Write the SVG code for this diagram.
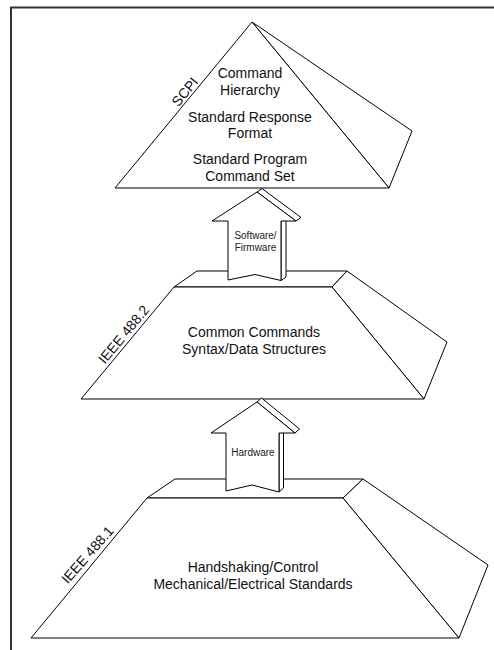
<svg xmlns="http://www.w3.org/2000/svg" width="494" height="650" viewBox="0 0 494 650">
<style>
.f{fill:#fff;stroke:#000;stroke-width:1;stroke-linejoin:miter}
.t{font-family:"Liberation Sans",Arial,sans-serif;font-size:14px;fill:#111;text-anchor:middle}
.s{font-family:"Liberation Sans",Arial,sans-serif;font-size:10px;fill:#222;text-anchor:middle}
</style>
<rect width="494" height="650" fill="#fff"/>
<path d="M11,650 V7.5 H494" fill="none" stroke="#333" stroke-width="2"/>
<g id="scpi">
<polygon class="f" points="252,22 412,131 389,188"/>
<polygon class="f" points="252,22 389,188 115,188"/>
<text class="t" x="250" y="78">Command</text>
<text class="t" x="250" y="95">Hierarchy</text>
<text class="t" x="250" y="122">Standard Response</text>
<text class="t" x="250" y="138">Format</text>
<text class="t" x="250" y="164">Standard Program</text>
<text class="t" x="250" y="181">Command Set</text>
<text class="t" transform="translate(188.7,94.8) rotate(-50.5)">SCPI</text>
</g>
<g id="ieee4882">
<polygon class="f" points="174,287 197,271 347,271 332,287"/>
<polygon class="f" points="332,287 347,271 447,342 424,399"/>
<polygon class="f" points="174,287 332,287 424,399 81,399"/>
<text class="t" x="254" y="337">Common Commands</text>
<text class="t" x="254" y="353.5">Syntax/Data Structures</text>
<text class="t" transform="translate(127.4,337.6) rotate(-50.3)">IEEE 488.2</text>
</g>
<g id="ieee4881">
<polygon class="f" points="147,498 175,479 363,479 343,498"/>
<polygon class="f" points="343,498 363,479 488,565 459,638"/>
<polygon class="f" points="147,498 343,498 459,638 31,638"/>
<text class="t" x="253" y="572">Handshaking/Control</text>
<text class="t" x="253" y="589">Mechanical/Electrical Standards</text>
<text class="t" transform="translate(91,558) rotate(-48.7)">IEEE 488.1</text>
</g>
<g id="connectors">
<g id="arrow-software">
<polygon class="f" points="257,192 262,188.5 301,217.5 296,221"/>
<polygon class="f" points="281,221 286,217.5 286,277 281,280.5"/>
<polygon class="f" points="257,192 212,221 228,221 228,280 255,274.5 281,280.5 281,221 296,221"/>
<text class="s" x="255.5" y="238.5">Software/</text>
<text class="s" x="255.5" y="251">Firmware</text>
</g>
<g id="arrow-hardware">
<polygon class="f" points="257,402 261.5,398 299.5,429 295,433"/>
<polygon class="f" points="279,433 283.5,429 283.5,488 279,492"/>
<polygon class="f" points="257,402 211,433 226,433 226,491 252,485 279,492 279,433 295,433"/>
<text class="s" x="253" y="455.5">Hardware</text>
</g>
</g>
</svg>
